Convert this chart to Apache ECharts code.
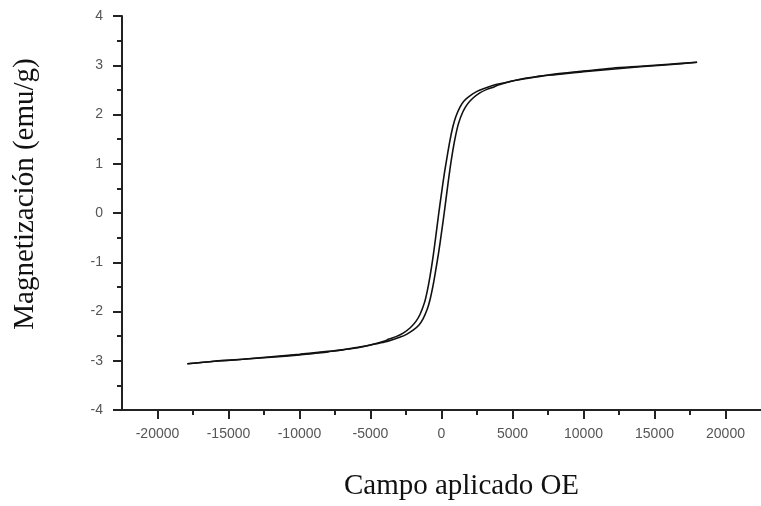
<!DOCTYPE html>
<html>
<head>
<meta charset="utf-8">
<title>Magnetización vs campo aplicado</title>
<script src="https://cdn.jsdelivr.net/npm/echarts@6/dist/echarts.min.js"></script>
<style>
  html, body { margin: 0; padding: 0; background: #fff; }
  #chart { width: 761px; height: 506px; }
</style>
</head>
<body>
<div id="chart"></div>
<script>
// rama descendente (desde +18000 Oe hasta -18000 Oe)
const campoBajada = [18000, 16000, 14000, 12000, 10000, 9000, 8000, 7000, 6000, 5000, 4000, 3500, 3000, 2500, 2000, 1600, 1300, 1000, 800, 600, 400, 200, 0, -200, -400, -600, -800, -1000, -1200, -1500, -1800, -2200, -2700, -3200, -3700, -4000, -5000, -6000, -7000, -8000, -9000, -10000, -12000, -14000, -16000, -17900];
const magBajada = [3.06, 3.02, 2.98, 2.94, 2.88, 2.85, 2.82, 2.78, 2.74, 2.68, 2.62, 2.58, 2.53, 2.47, 2.38, 2.28, 2.15, 1.95, 1.75, 1.48, 1.15, 0.8, 0.4, -0.02, -0.47, -0.9, -1.27, -1.58, -1.82, -2.05, -2.2, -2.33, -2.44, -2.51, -2.56, -2.6, -2.68, -2.73, -2.78, -2.81, -2.84, -2.87, -2.92, -2.97, -3.01, -3.06];

// rama ascendente (desde -18000 Oe hasta +18000 Oe)
const campoSubida = [-17900, -16000, -14000, -12000, -10000, -9000, -8000, -7000, -6000, -5000, -4000, -3500, -3000, -2500, -2000, -1600, -1300, -1000, -800, -600, -400, -200, 0, 200, 400, 600, 800, 1000, 1200, 1500, 1800, 2200, 2700, 3200, 3700, 4000, 5000, 6000, 7000, 8000, 9000, 10000, 12000, 14000, 16000, 18000];
const magSubida = [-3.06, -3.01, -2.97, -2.93, -2.88, -2.85, -2.82, -2.78, -2.74, -2.68, -2.62, -2.58, -2.53, -2.47, -2.38, -2.28, -2.15, -1.95, -1.75, -1.48, -1.15, -0.8, -0.4, 0.02, 0.47, 0.9, 1.27, 1.58, 1.82, 2.05, 2.2, 2.33, 2.44, 2.51, 2.56, 2.6, 2.68, 2.73, 2.78, 2.81, 2.84, 2.87, 2.92, 2.97, 3.01, 3.06];

// marcas del eje x
const ticksMayores = [-20000, -15000, -10000, -5000, 0, 5000, 10000, 15000, 20000];
const ticksMenores = [-17500, -12500, -7500, -2500, 2500, 7500, 12500, 17500];

const chart = echarts.init(document.getElementById('chart'));

const labelStyle = {
  fontFamily: 'Liberation Sans, Arial, sans-serif',
  fontSize: 14,
  color: '#555'
};

const titleStyle = {
  fontFamily: 'Liberation Serif, Times New Roman, serif',
  fontSize: 29,
  color: '#111'
};

const option = {
  animation: false,
  backgroundColor: '#fff',
  grid: { left: 122, top: 16, right: -4, bottom: 90 },
  xAxis: [{
    type: 'value',
    min: -22500,
    max: 22500,
    name: 'Campo aplicado OE',
    nameLocation: 'middle',
    nameGap: 62,
    nameTextStyle: Object.assign({ padding: [0, 0, 0, 40] }, titleStyle),
    axisLine: { onZero: false, lineStyle: { color: '#222', width: 2 } },
    axisTick: { show: true, length: 9, customValues: ticksMayores, lineStyle: { color: '#222', width: 2 } },
    axisLabel: Object.assign({
      margin: 17,
      customValues: ticksMayores,
      formatter: v => String(v)
    }, labelStyle),
    splitLine: { show: false }
  }, {
    type: 'value',
    position: 'bottom',
    min: -22500,
    max: 22500,
    axisLine: { show: false, onZero: false },
    axisTick: { show: true, length: 5, customValues: ticksMenores, lineStyle: { color: '#222', width: 2 } },
    axisLabel: { show: false },
    splitLine: { show: false }
  }],
  yAxis: {
    type: 'value',
    min: -4,
    max: 4,
    interval: 1,
    name: 'Magnetización (emu/g)',
    nameLocation: 'middle',
    nameGap: 82,
    nameTextStyle: Object.assign({ padding: [0, 0, 0, 38] }, titleStyle),
    axisLine: { show: true, onZero: false, lineStyle: { color: '#222', width: 2 } },
    axisTick: { show: true, length: 9, lineStyle: { color: '#222', width: 2 } },
    minorTick: { show: true, splitNumber: 2, length: 5, lineStyle: { color: '#222', width: 2 } },
    axisLabel: Object.assign({ margin: 19 }, labelStyle),
    splitLine: { show: false }
  },
  series: [{
    name: 'bajada',
    type: 'line',
    xAxisIndex: 0,
    showSymbol: false,
    smooth: 0.3,
    lineStyle: { color: '#111', width: 1.6 },
    data: campoBajada.map((h, i) => [h, magBajada[i]])
  }, {
    name: 'subida',
    type: 'line',
    xAxisIndex: 0,
    showSymbol: false,
    smooth: 0.3,
    lineStyle: { color: '#111', width: 1.6 },
    data: campoSubida.map((h, i) => [h, magSubida[i]])
  }]
};

chart.setOption(option);
</script>
</body>
</html>
